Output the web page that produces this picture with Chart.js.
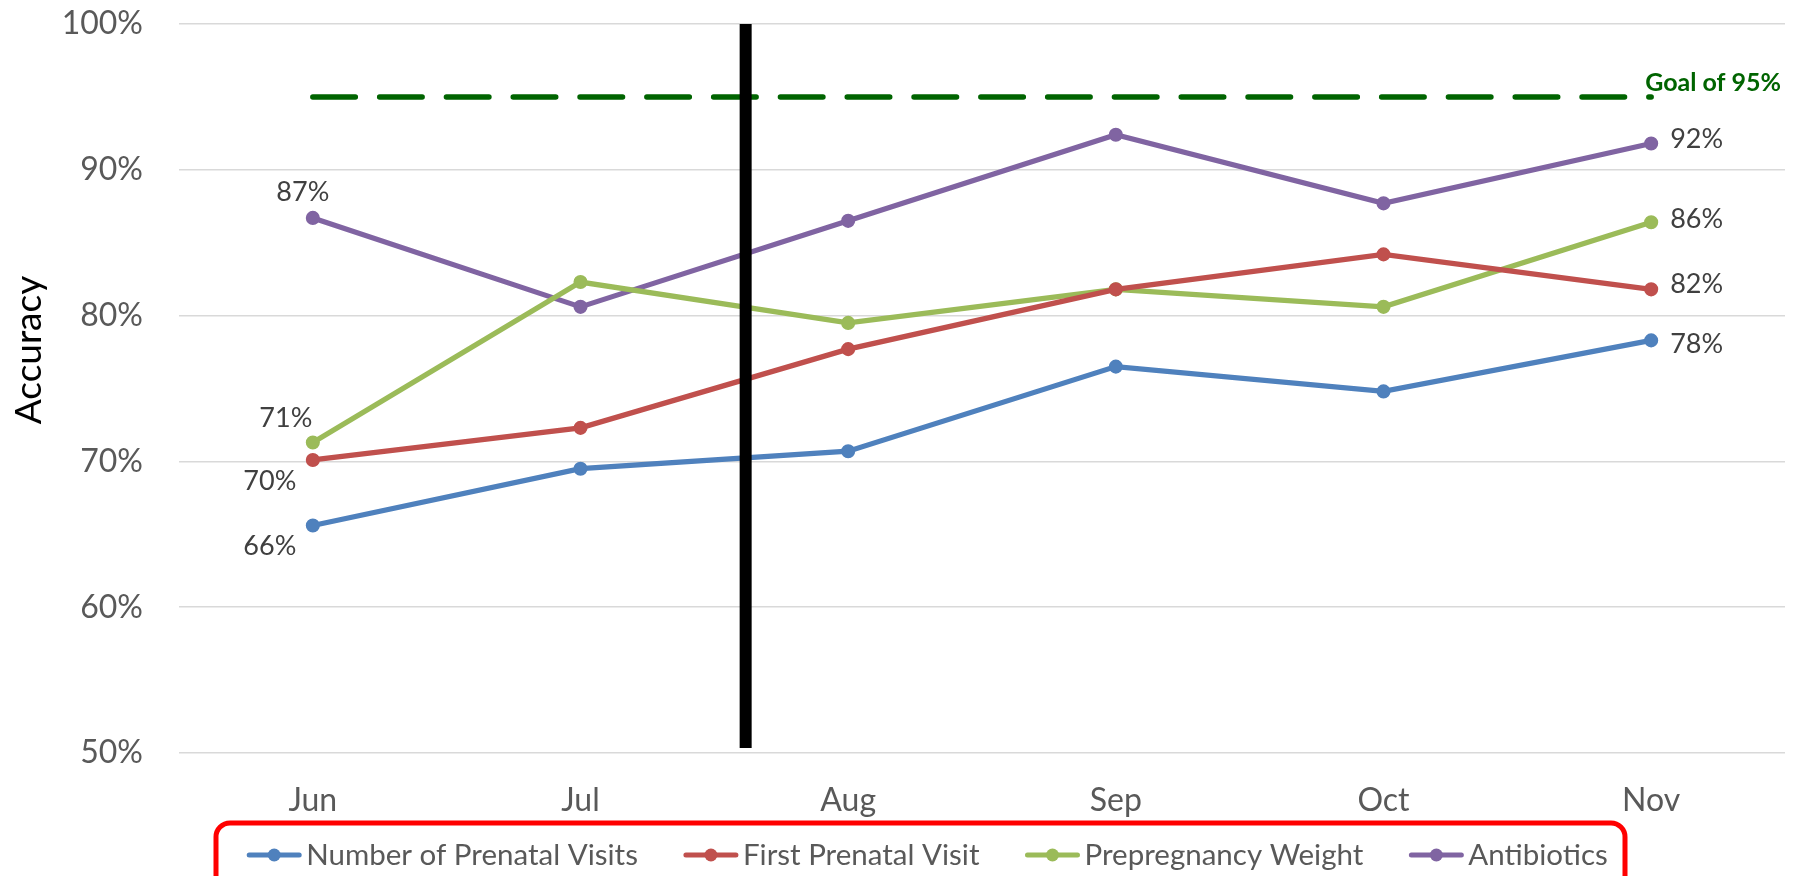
<!DOCTYPE html>
<html><head><meta charset="utf-8">
<script src="https://cdn.jsdelivr.net/npm/chart.js@4"></script>
<style>html,body{margin:0;padding:0;background:#fff;overflow:hidden}</style>
</head><body>
<canvas id="c" width="1810" height="876"></canvas>
<script>
// ---- data ----
const months = ['Jun', 'Jul', 'Aug', 'Sep', 'Oct', 'Nov'];
const prenatalVisits = [65.6, 69.5, 70.7, 76.5, 74.8, 78.3];
const firstPrenatalVisit = [70.1, 72.3, 77.7, 81.8, 84.2, 81.8];
const prepregnancyWeight = [71.3, 82.3, 79.5, 81.8, 80.6, 86.4];
const antibiotics = [86.7, 80.6, 86.5, 92.4, 87.7, 91.8];
const goal = [95, 95, 95, 95, 95, 95];
const seriesNames = ['Number of Prenatal Visits', 'First Prenatal Visit', 'Prepregnancy Weight', 'Antibiotics'];
const goalLabel = 'Goal of 95%';
const yTickValues = [50, 60, 70, 80, 90, 100];
const axisTitle = 'Accuracy';
const interventionAt = 1.617; // category position of the black divider (between Jul and Aug)

// ---- styles ----
const colors = ['#4F81BD', '#C0504D', '#9BBB59', '#8064A2'];
const goalColor = '#006400';
const FONT = 'Lato, "Open Sans", sans-serif';
// data labels: [dataset, index, dx, dy, align]
const labelSpots = [
  [3, 0, -10, -26, 'center'], [2, 0, -27, -24, 'center'], [1, 0, -43, 21, 'center'], [0, 0, -43, 21, 'center'],
  [3, 5, 19, -4, 'left'], [2, 5, 19, -3, 'left'], [1, 5, 19, -5, 'left'], [0, 5, 19, 4, 'left']
];

const seriesData = [prenatalVisits, firstPrenatalVisit, prepregnancyWeight, antibiotics];
const datasets = seriesData.map((d, i) => ({
  label: seriesNames[i], data: d, borderColor: colors[i], backgroundColor: colors[i],
  borderWidth: 5.2, pointRadius: 6.3, pointBorderWidth: 1.5, pointBackgroundColor: colors[i],
  pointBorderColor: colors[i], tension: 0, order: 1
}));
datasets.push({
  label: goalLabel, data: goal, borderColor: goalColor, borderWidth: 5.5,
  borderDash: [42.5, 24.3], borderCapStyle: 'round', pointRadius: 0, order: 2, isGoal: true
});

const extras = {
  id: 'extras',
  afterDatasetsDraw(chart) {
    const ctx = chart.ctx, xs = chart.scales.x, ca = chart.chartArea;
    // divider bar
    const p1 = xs.getPixelForValue(Math.floor(interventionAt));
    const p2 = xs.getPixelForValue(Math.floor(interventionAt) + 1);
    const bx = p1 + (interventionAt - Math.floor(interventionAt)) * (p2 - p1);
    ctx.save();
    ctx.fillStyle = '#000';
    ctx.fillRect(bx - 6, ca.top, 12, ca.bottom - ca.top - 5);
    // data labels
    ctx.font = '27px ' + FONT;
    ctx.fillStyle = '#404040';
    ctx.textBaseline = 'middle';
    labelSpots.forEach(([di, pi, dx, dy, al]) => {
      const pt = chart.getDatasetMeta(di).data[pi];
      ctx.textAlign = al;
      ctx.fillText(Math.round(chart.data.datasets[di].data[pi]) + '%', pt.x + dx, pt.y + dy);
    });
    // goal label
    const gi = chart.data.datasets.findIndex(d => d.isGoal);
    const gm = chart.getDatasetMeta(gi).data;
    const last = gm[gm.length - 1];
    ctx.font = 'bold 25px ' + FONT;
    ctx.fillStyle = goalColor;
    ctx.textAlign = 'left';
    ctx.fillText(goalLabel, last.x - 6, last.y - 14);
    // axis title
    ctx.save();
    ctx.translate(29, 350);
    ctx.rotate(-Math.PI / 2);
    ctx.font = '37px ' + FONT;
    ctx.fillStyle = '#000';
    ctx.textAlign = 'center';
    ctx.fillText(axisTitle, 0, 0);
    ctx.restore();
    // legend
    ctx.font = '29.5px ' + FONT;
    const items = chart.data.datasets.filter(d => !d.isGoal);
    const widths = items.map(d => ctx.measureText(d.label).width);
    const total = widths.reduce((a, w) => a + 60 + w, 0) + 45 * (items.length - 1);
    let x = 927 - total / 2;
    const y = 855;
    ctx.strokeStyle = '#FF0000';
    ctx.lineWidth = 5;
    ctx.beginPath();
    ctx.roundRect(216, 823, 1409, 80, 14);
    ctx.stroke();
    items.forEach((d, i) => {
      ctx.strokeStyle = d.borderColor; ctx.fillStyle = d.borderColor;
      ctx.lineWidth = 5; ctx.lineCap = 'round';
      ctx.beginPath(); ctx.moveTo(x + 3, y); ctx.lineTo(x + 53, y); ctx.stroke();
      ctx.beginPath(); ctx.arc(x + 28, y, 6.5, 0, Math.PI * 2); ctx.fill();
      ctx.fillStyle = '#595959'; ctx.textAlign = 'left'; ctx.textBaseline = 'middle';
      ctx.fillText(d.label, x + 60, y);
      x += 60 + widths[i] + 45;
    });
    ctx.restore();
  }
};

new Chart(document.getElementById('c'), {
  type: 'line',
  data: { labels: months, datasets },
  options: {
    responsive: false, animation: false,
    layout: { padding: { top: 24, right: 25, left: 0, bottom: 0 } },
    plugins: { legend: { display: false }, tooltip: { enabled: false } },
    scales: {
      x: {
        offset: true,
        grid: { display: false, drawTicks: false },
        border: { display: false },
        ticks: { color: '#595959', font: { family: FONT, size: 32 }, padding: 28 },
        afterFit(s) { s.height = 123; s.paddingLeft = 0; s.paddingRight = 0; }
      },
      y: {
        min: 50, max: 100,
        afterBuildTicks(s) { s.ticks = yTickValues.map(v => ({ value: v })); },
        grid: { color: '#D9D9D9', lineWidth: 1.5, drawTicks: false },
        border: { display: false },
        ticks: { color: '#595959', font: { family: FONT, size: 32 }, padding: 36, callback: v => v + '%' },
        afterFit(s) { s.width = 179; s.paddingTop = 0; s.paddingBottom = 0; }
      }
    }
  },
  plugins: [extras]
});
</script>
</body></html>
